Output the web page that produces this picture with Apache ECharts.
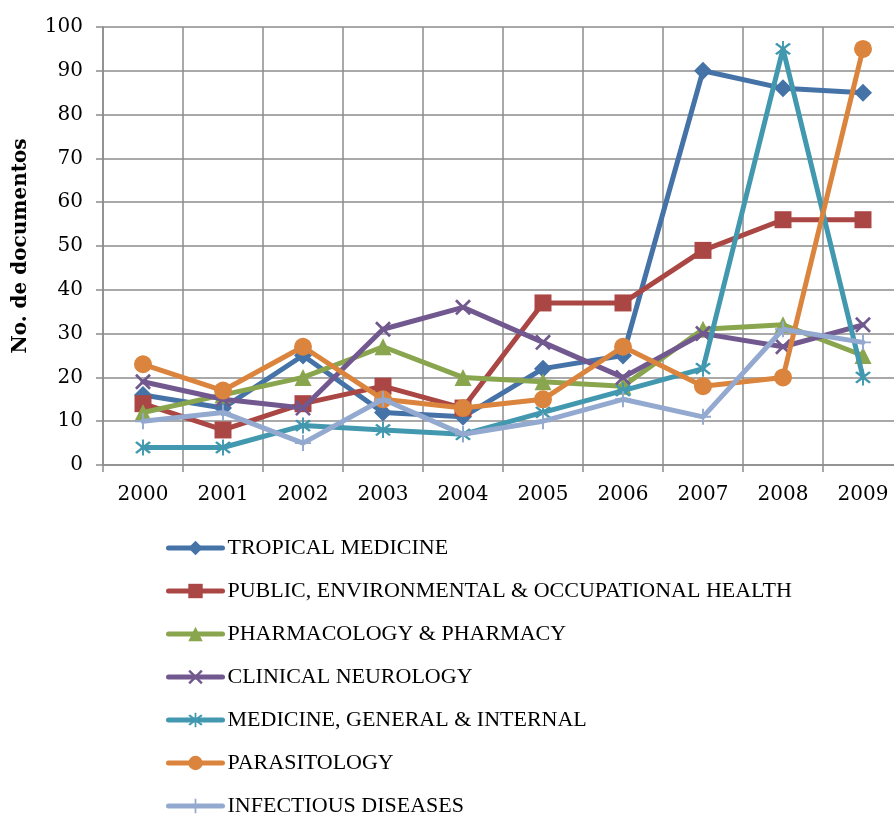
<!DOCTYPE html>
<html>
<head>
<meta charset="utf-8">
<script src="https://cdn.jsdelivr.net/npm/echarts@6/dist/echarts.min.js"></script>
<style>
  html, body { margin: 0; padding: 0; background: #ffffff; }
  #chart { width: 894px; height: 816px; }
</style>
</head>
<body>
<div id="chart"></div>
<script>
// Documents per subject category, 2000-2009
const years = ['2000', '2001', '2002', '2003', '2004', '2005', '2006', '2007', '2008', '2009'];
const yTicks = { min: 0, max: 100, interval: 10 };

const tropicalMedicine = [16, 13, 25, 12, 11, 22, 25, 90, 86, 85];
const publicHealth     = [14, 8, 14, 18, 13, 37, 37, 49, 56, 56];
const pharmacology     = [12, 16, 20, 27, 20, 19, 18, 31, 32, 25];
const clinicalNeuro    = [19, 15, 13, 31, 36, 28, 20, 30, 27, 32];
const medicineGeneral  = [4, 4, 9, 8, 7, 12, 17, 22, 95, 20];
const parasitology     = [23, 17, 27, 15, 13, 15, 27, 18, 20, 95];
const infectious       = [10, 12, 5, 15, 7, 10, 15, 11, 31, 28];

const names = [
  'TROPICAL MEDICINE',
  'PUBLIC, ENVIRONMENTAL & OCCUPATIONAL HEALTH',
  'PHARMACOLOGY & PHARMACY',
  'CLINICAL NEUROLOGY',
  'MEDICINE, GENERAL & INTERNAL',
  'PARASITOLOGY',
  'INFECTIOUS DISEASES'
];
const colors = ['#4572A7', '#AA4643', '#89A54E', '#71588F', '#4198AF', '#DB843D', '#93A9CF'];

// Thin-stroke marker glyphs built as filled outlines
const xMark = 'path://M0,1.2L1.2,0L10,8.8L8.8,10ZM8.8,0L10,1.2L1.2,10L0,8.8Z';
const starMark = 'path://M0,1.2L1.2,0L10,8.8L8.8,10ZM8.8,0L10,1.2L1.2,10L0,8.8ZM4.4,-1.5L5.6,-1.5L5.6,11.5L4.4,11.5Z';
const plusMark = 'path://M4.4,0L5.6,0L5.6,10L4.4,10ZM0,4.4L10,4.4L10,5.6L0,5.6Z';

const seriesData = [tropicalMedicine, publicHealth, pharmacology, clinicalNeuro, medicineGeneral, parasitology, infectious];
const symbols = ['diamond', 'rect', 'triangle', xMark, starMark, 'circle', plusMark];
const sizes = [18, 17, 17, 16, 16, 18, 16];

const serif = '"Liberation Serif", "DejaVu Serif", serif';
const tickFont = '"DejaVu Serif", "Liberation Serif", serif';
const gridColor = '#8c8c8c';

const chart = echarts.init(document.getElementById('chart'), null, { renderer: 'canvas' });

chart.setOption({
  animation: false,
  color: colors,
  grid: {
    left: 103, top: 27, right: -9, bottom: 351,
    containLabel: false, outerBoundsMode: 'none'
  },
  xAxis: {
    type: 'category',
    data: years,
    boundaryGap: true,
    axisLine: { show: true, lineStyle: { color: gridColor, width: 1.5 } },
    axisTick: { show: true, length: 7, alignWithLabel: false, lineStyle: { color: gridColor, width: 1.5 } },
    splitLine: { show: true, lineStyle: { color: gridColor, width: 1.5 } },
    axisLabel: { color: '#000', fontFamily: tickFont, fontSize: 20, margin: 20 }
  },
  yAxis: {
    type: 'value',
    min: yTicks.min,
    max: yTicks.max,
    interval: yTicks.interval,
    name: 'No. de documentos',
    nameLocation: 'middle',
    nameGap: 72,
    nameRotate: 90,
    nameTextStyle: { color: '#000', fontFamily: tickFont, fontSize: 20, fontWeight: 'bold' },
    axisLine: { show: true, lineStyle: { color: gridColor, width: 1.5 } },
    axisTick: { show: true, length: 7, lineStyle: { color: gridColor, width: 1.5 } },
    splitLine: { show: true, lineStyle: { color: gridColor, width: 1.5 } },
    axisLabel: { color: '#000', fontFamily: tickFont, fontSize: 20, margin: 20 }
  },
  legend: {
    orient: 'vertical',
    left: 161,
    top: 532,
    height: 320,
    itemWidth: 54,
    itemHeight: 18,
    itemGap: 21,
    lineStyle: { width: 5, cap: 'round' },
    textStyle: { color: '#000', fontFamily: serif, fontSize: 22, lineHeight: 22 },
    data: names
  },
  series: names.map((n, i) => ({
    name: n,
    type: 'line',
    data: seriesData[i],
    symbol: symbols[i],
    symbolSize: sizes[i],
    showAllSymbol: true,
    lineStyle: { width: 5, color: colors[i], cap: 'round', join: 'round' },
    itemStyle: { color: colors[i] },
    z: 2 + i
  }))
});
</script>
</body>
</html>
